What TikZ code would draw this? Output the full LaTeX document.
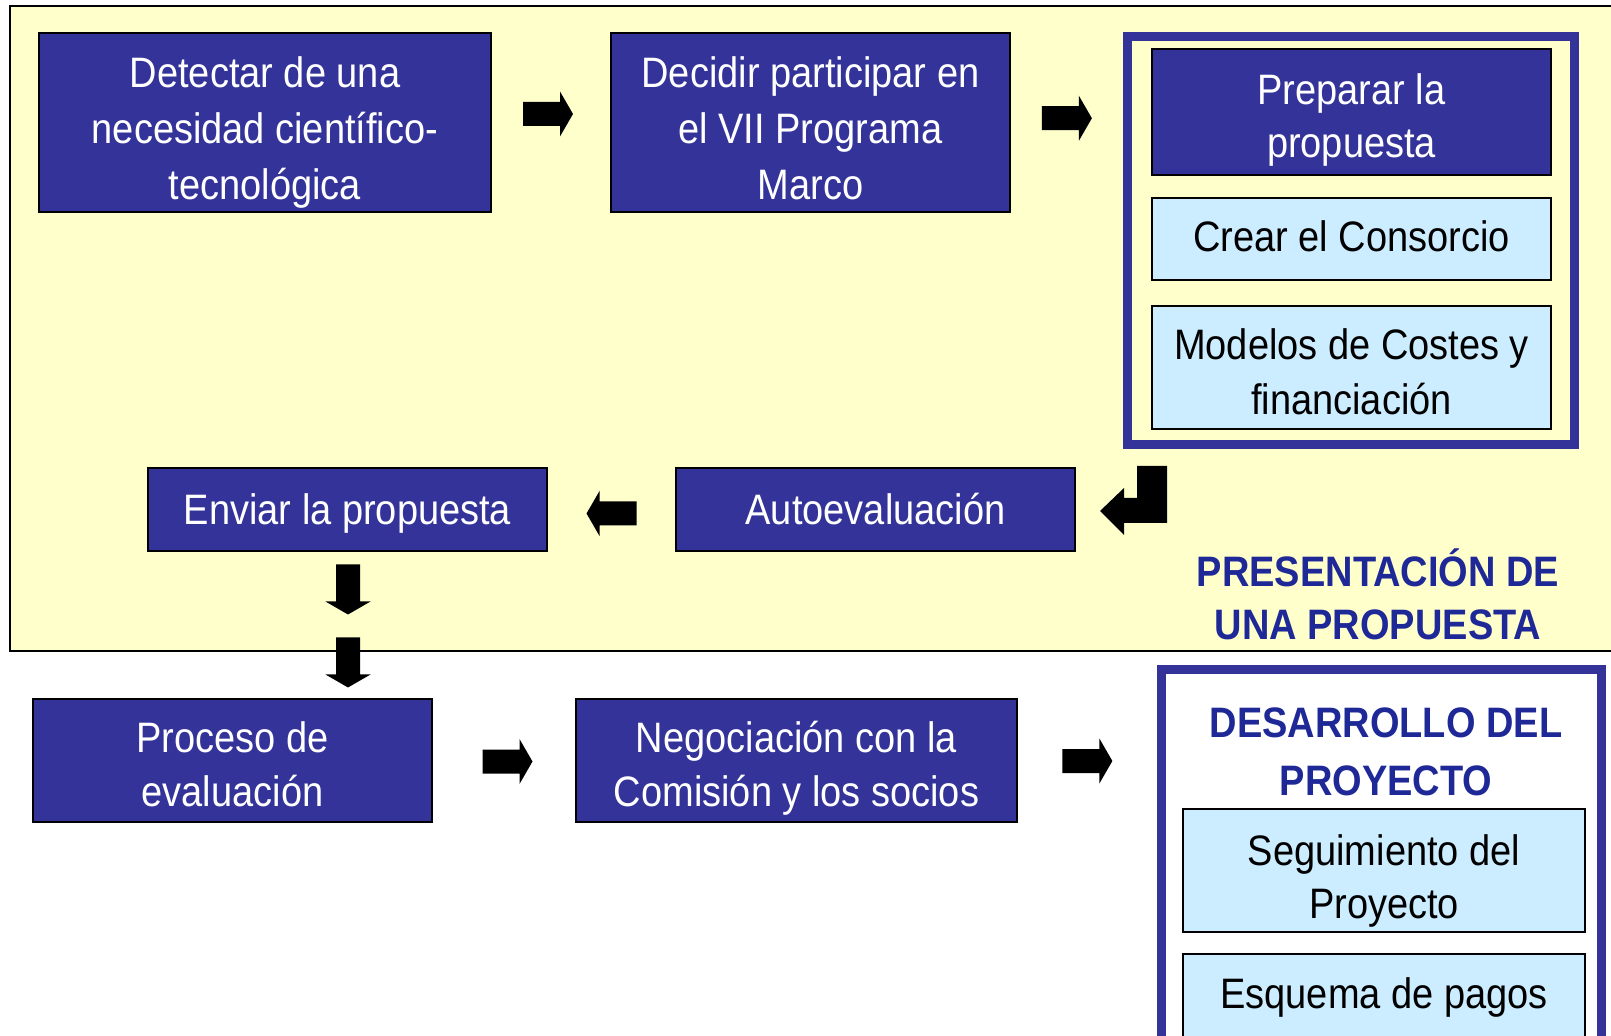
\documentclass[tikz,border=0pt]{standalone}
\usepackage{fontspec}
\setmainfont{Liberation Sans}[FakeStretch=0.892]
\usetikzlibrary{calc}
\definecolor{dblue}{HTML}{333399}
\definecolor{lblue}{HTML}{CCECFF}
\definecolor{pyellow}{HTML}{FFFFCC}
\definecolor{ttl}{RGB}{30,40,150}
\newcommand\txtlines[1]{\begin{tabular}[t]{@{}c@{}}#1\end{tabular}}
\begin{document}
\begin{tikzpicture}[x=0.5pt,y=-0.5pt,
  dbox/.style={draw=black, line width=0.75pt, fill=dblue, text=white, inner xsep=0pt, inner ysep=0pt, font=\fontsize{21.3}{27}\selectfont},
  lbox/.style={dbox, fill=lblue, text=black},
  frame/.style={draw=dblue, line width=4.5pt},
  ttlstyle/.style={text=ttl, inner sep=0pt, anchor=base, font=\fontsize{21.3}{26.5}\selectfont\bfseries},
  barrow/.pic={\fill[black] (-25,-12) -- (12,-12) -- (12,-22.5) -- (25,0) -- (12,22.5) -- (12,12) -- (-25,12) -- cycle;}
]
\useasboundingbox (0,0) rectangle (1611,1036);
\clip (0,0) rectangle (1611,1036);
\fill[white] (0,0) rectangle (1611,1036);
% yellow panel
\draw[fill=pyellow, line width=0.75pt] (10,6) rectangle (1650,651);
% frames
\draw[frame] (1127.5,36.5) rectangle (1574.5,444.5);
\draw[frame, fill=white] (1161.5,669.5) rectangle (1601.5,1080);
% top row
\node[dbox, font=\fontsize{21.3}{28}\selectfont, minimum width=226pt, text height=27.25pt, text depth=62.25pt] (detectar) at (265,122.5) {\txtlines{Detectar de una\\necesidad científico-\\tecnológica}};
\node[dbox, font=\fontsize{21.3}{28}\selectfont, minimum width=199.5pt, text height=27.25pt, text depth=62.25pt] (decidir) at (810.5,122.5) {\txtlines{Decidir participar en\\el VII Programa\\Marco}};
\node[dbox, font=\fontsize{21.3}{26.5}\selectfont, minimum width=199.5pt, text height=28pt, text depth=35pt] (preparar) at (1351.5,112) {\txtlines{Preparar la\\propuesta}};
\node[lbox, minimum width=199.5pt, text height=27pt, text depth=14pt] (crear) at (1351.5,239) {\txtlines{Crear el Consorcio}};
\node[lbox, font=\fontsize{21.3}{27.5}\selectfont, minimum width=199.5pt, text height=27pt, text depth=34.5pt] (modelos) at (1351.5,367.5) {\txtlines{Modelos de Costes y\\financiación}};
\coordinate (prepW) at (1123,114);
% middle row
\node[dbox, minimum width=199.5pt, text height=28.5pt, text depth=13pt] (autoeval) at (875.5,509.5) {\txtlines{Autoevaluación}};
\node[dbox, minimum width=199.5pt, text height=28.5pt, text depth=13pt] (enviar) at (347.5,509.5) {\txtlines{Enviar la propuesta}};
\node[ttlstyle] (presentacion) at (1378,587) {\txtlines{PRESENTACIÓN DE\\UNA PROPUESTA}};
% bottom row
\node[dbox, minimum width=199.5pt, text height=27pt, text depth=34.5pt] (proceso) at (232.5,760.5) {\txtlines{Proceso de\\evaluación}};
\node[dbox, minimum width=220.5pt, text height=27pt, text depth=34.5pt] (negociacion) at (796.5,760.5) {\txtlines{Negociación con la\\Comisión y los socios}};
\coordinate (desW) at (1157,761.5);
\node[ttlstyle, font=\fontsize{21.3}{28.5}\selectfont\bfseries] (desarrollo) at (1386,738) {\txtlines{DESARROLLO DEL\\PROYECTO}};
\node[lbox, font=\fontsize{21.3}{26.5}\selectfont, minimum width=201pt, text height=28pt, text depth=33.5pt] (seguimiento) at (1384,870.5) {\txtlines{Seguimiento del\\Proyecto}};
\node[lbox, minimum width=201pt, text height=27pt, text depth=16pt] (esquema) at (1384,997) {\txtlines{Esquema de pagos}};
% block arrows
\pic at ($(detectar.east)!0.5!(decidir.west)+(-3,-8.5)$) {barrow};
\pic at ($(decidir.east)!0.5!(prepW)$) {barrow};
\pic[rotate=180] at ($(enviar.east)!0.5!(autoeval.west)+(0,4)$) {barrow};
\pic[rotate=-90] at (348,589.5) {barrow};
\pic[rotate=-90] at (348,662.5) {barrow};
\pic at ($(proceso.east)!0.5!(negociacion.west)+(3.5,1)$) {barrow};
\pic at ($(negociacion.east)!0.5!(desW)$) {barrow};
% corner arrow
\fill[black] (1167,466) -- (1167,523) -- (1124,523) -- (1124,535) -- (1100,511) -- (1124,488) -- (1124,498) -- (1137,498) -- (1137,466) -- cycle;
\end{tikzpicture}
\end{document}
